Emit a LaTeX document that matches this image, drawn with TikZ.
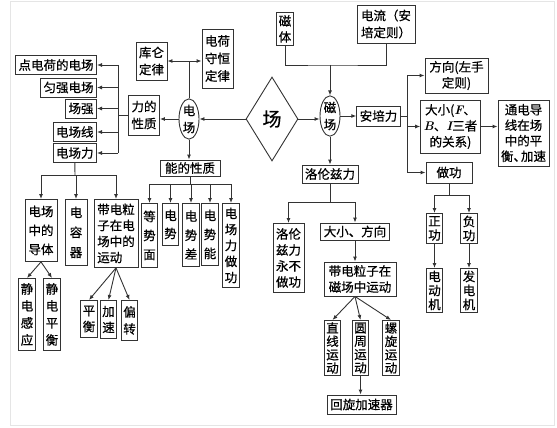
\documentclass[tikz,border=0pt]{standalone}
\usepackage{fontspec}
\newfontfamily\zh[FakeBold=0.6]{Noto Sans CJK SC}
\usetikzlibrary{shapes.geometric,arrows.meta}
\newcommand{\bi}[1]{{\rmfamily\bfseries\itshape #1}}

\begin{document}
\begin{tikzpicture}[x=1pt,y=-1pt,
  box/.style = {rectangle,draw=black!80,line width=0.9pt,inner xsep=3pt,inner ysep=1.5pt,
                align=center,font={\zh\fontsize{12.5}{14}\selectfont}},
  sp/.style = {font={\zh\fontsize{12.5}{#1}\selectfont}},
  col/.style = {box,anchor=north,inner xsep=2pt,minimum width=16pt},
  oval/.style = {ellipse,draw=black!80,line width=0.9pt,inner sep=0pt,minimum width=20pt,
                 minimum height=40pt,align=center,font={\zh\fontsize{12.5}{17}\selectfont}},
  link/.style = {draw=black!80,line width=0.9pt},
  arr/.style = {link,-{Latex[length=5pt,width=4pt]}}]
\useasboundingbox (0,0) rectangle (557,428);
\draw[black!10,line width=0.8pt] (10,1) rectangle (554,425);

% centre
\node[diamond,draw=black!80,line width=0.9pt,minimum width=52pt,minimum height=84pt,inner sep=0pt,
      font={\zh\fontsize{19}{20}\selectfont}] (c) at (272,119) {场};
\node[oval] (e) at (189,119) {电\\场};
\node[oval] (m) at (330,116) {磁\\场};
\draw[arr] (c.west) -- (c.west -| e.east);
\draw[arr] (c.east) -- (c.east -| m.west);

% electric field: force
\node[box,sp=17,minimum height=40pt] (lx) at (144,115) {力的\\性质};
\foreach \t/\y [count=\i] in {点电荷的电场/65, 匀强电场/87.5, 场强/108.5, 电场线/132, 电场力/153}
    \node[box,anchor=east,minimum height=19pt] (l\i) at (97,\y) {\t};
\coordinate (lbus) at (118,115);
\draw[arr] (e.west) -- (e.west -| lx.east);
\draw[link] (lx.west) -- (lbus);
\draw[link] (lbus |- l1) -- (lbus |- l5);
\foreach \i in {1,...,5}
    \draw[arr] (lbus |- l\i) -- (l\i.east);

\node[box,sp=17,minimum height=38pt] (kl) at (151.5,61) {库仑\\定律};
\node[box,sp=17.5,minimum height=59pt] (dh) at (217.5,58.5) {电荷\\守恒\\定律};
\coordinate (ebus) at (189,61);
\draw[link] (e.north) -- (ebus);
\draw[arr] (ebus) -- (kl.east);
\draw[arr] (ebus) -- (ebus -| dh.west);

% electric field: energy
\node[box,minimum width=60pt,minimum height=16pt] (nx) at (190,168) {能的性质};
\draw[arr] (e.south) -- (e.south |- nx.north);
\foreach \t/\x/\h/\s [count=\i] in {等\\势\\面/149.5/64/19, 电\\势/170.5/42/18, 电\\势\\差/191/63/19,
                                     电\\势\\能/210/62/19, 电\\场\\力\\做\\功/231/84/16}
    \node[col,sp=\s,minimum height=\h pt] (n\i) at (\x,203) {\t};
\coordinate (nbus) at (190,184);
\draw[link] (nx.south) -- (nbus);
\draw[link] (nbus -| n1) -- (nbus -| n5);
\foreach \i in {1,...,5}
    \draw[arr] (nbus -| n\i) -- (n\i.north);

% below 电场力
\node[col,sp=19,minimum width=32pt,minimum height=62pt] (dt) at (41,199) {电场\\中的\\导体};
\node[col,sp=20,minimum width=22pt,minimum height=66pt] (rq) at (76,199) {电\\容\\器};
\node[col,sp=16,minimum width=44pt,minimum height=68pt,align=left] (dz) at (116,199) {带电粒\\子在电\\场中的\\运动};
\coordinate (fbus) at (75,175);
\draw[link] (l5.south) -- (fbus);
\draw[link] (fbus -| dt) -- (fbus -| dz);
\foreach \n in {dt,rq,dz}
    \draw[arr] (fbus -| \n) -- (\n.north);

\node[col,sp=17,minimum height=72pt] (jg) at (27,278) {静\\电\\感\\应};
\node[col,sp=17,minimum height=72pt] (jp) at (52,278) {静\\电\\平\\衡};
\draw[arr] (dt.south) -- (jg.north);
\draw[arr] (dt.south) -- (jp.north);

\node[col,sp=16,minimum height=37pt] (ph) at (89,300) {平\\衡};
\node[col,sp=16,minimum height=38pt] (js) at (108.5,300) {加\\速};
\node[col,sp=17,minimum height=40pt] (pz) at (129.5,300) {偏\\转};
\foreach \n in {ph,js,pz}
    \draw[arr] (dz.south) -- (\n.north);

% magnetic field: sources
\node[col,sp=16,minimum height=33pt] (ct) at (285,12) {磁\\体};
\node[box,sp=17,minimum width=58pt,minimum height=38pt] (dl) at (386,24) {电流（安\\培定则）};
\coordinate (mbus) at (330,65);
\draw[link] (ct.south) |- (mbus) -| (dl.south);
\draw[arr] (mbus) -- (m.north);

% Ampere force
\node[box,minimum height=20pt] (ap) at (378.5,116) {安培力};
\draw[arr] (m.east) -- (ap.west);
\node[box,sp=16,minimum width=63pt,minimum height=35pt] (fx) at (456.5,75.5) {方向(左手\\定则)};
\node[box,sp=16,minimum width=51pt,minimum height=53pt] (dx) at (450.5,126.5) {大小(\bi{F}、\\\bi{B}、\bi{I}三者\\的关系)};
\node[box,minimum width=46pt,minimum height=21pt] (zg) at (449,172.5) {做功};
\coordinate (abus) at (407,116);
\draw[link] (ap.east) -- (abus);
\draw[link] (abus |- fx) -- (abus |- zg);
\foreach \n in {fx,dx,zg}
    \draw[arr] (abus |- \n) -- (\n.west);

\node[box,sp=15.5,minimum width=47pt,minimum height=66pt] (td) at (523.5,133) {通电导\\线在场\\中的平\\衡、\kern-5pt加速};
\draw[arr] (dx.east) -- (dx.east -| td.west);

\node[col,sp=14,minimum height=30pt] (zz) at (434.5,213) {正\\功};
\node[col,sp=14,minimum height=30pt] (fz) at (469,213) {负\\功};
\coordinate (wbus) at (449,195);
\draw[link] (zg.south) -- (wbus);
\draw[link] (wbus -| zz) -- (wbus -| fz);
\foreach \n in {zz,fz}
    \draw[arr] (wbus -| \n) -- (\n.north);
\node[col,sp=14,minimum height=44pt] (dj) at (434.5,268) {电\\动\\机};
\node[col,sp=14,minimum height=44pt] (fj) at (469,268) {发\\电\\机};
\draw[arr] (zz.south) -- (dj.north);
\draw[arr] (fz.south) -- (fj.north);

% Lorentz force
\node[box,minimum width=56pt,minimum height=18pt] (lz) at (330,174) {洛伦兹力};
\draw[arr] (m.south) -- (lz.north);
\node[col,sp=16,minimum width=31pt,minimum height=69pt] (lzn) at (288.5,223) {洛伦\\兹力\\永不\\做功};
\node[box,minimum width=64pt,minimum height=17pt] (dxf) at (355,231.5) {大小、方向};
\coordinate (lzbus) at (330,202);
\draw[link] (lz.south) -- (lzbus);
\draw[link] (lzbus -| lzn) -- (lzbus -| dxf);
\draw[arr] (lzbus -| lzn) -- (lzn.north);
\draw[arr] (lzbus -| dxf) -- (dxf.north);

\node[box,sp=16,minimum width=72pt,minimum height=34pt] (dcy) at (360,279) {带电粒子在\\磁场中运动};
\draw[arr] (dxf.south) -- (dxf.south |- dcy.north);
\node[col,sp=13.3,minimum height=55pt] (zx) at (332.5,320) {直\\线\\运\\动};
\node[col,sp=13.3,minimum height=55pt] (yz) at (360.5,320) {圆\\周\\运\\动};
\node[col,sp=13.3,minimum height=55pt] (lxy) at (391,320) {螺\\旋\\运\\动};
\foreach \n in {zx,yz,lxy}
    \draw[arr] (dxf.south |- dcy.south) -- (\n.north);
\node[box,minimum width=69pt,minimum height=19pt] (hx) at (361.5,404.5) {回旋加速器};
\draw[arr] (yz.south) -- (yz.south |- hx.north);
\end{tikzpicture}
\end{document}
